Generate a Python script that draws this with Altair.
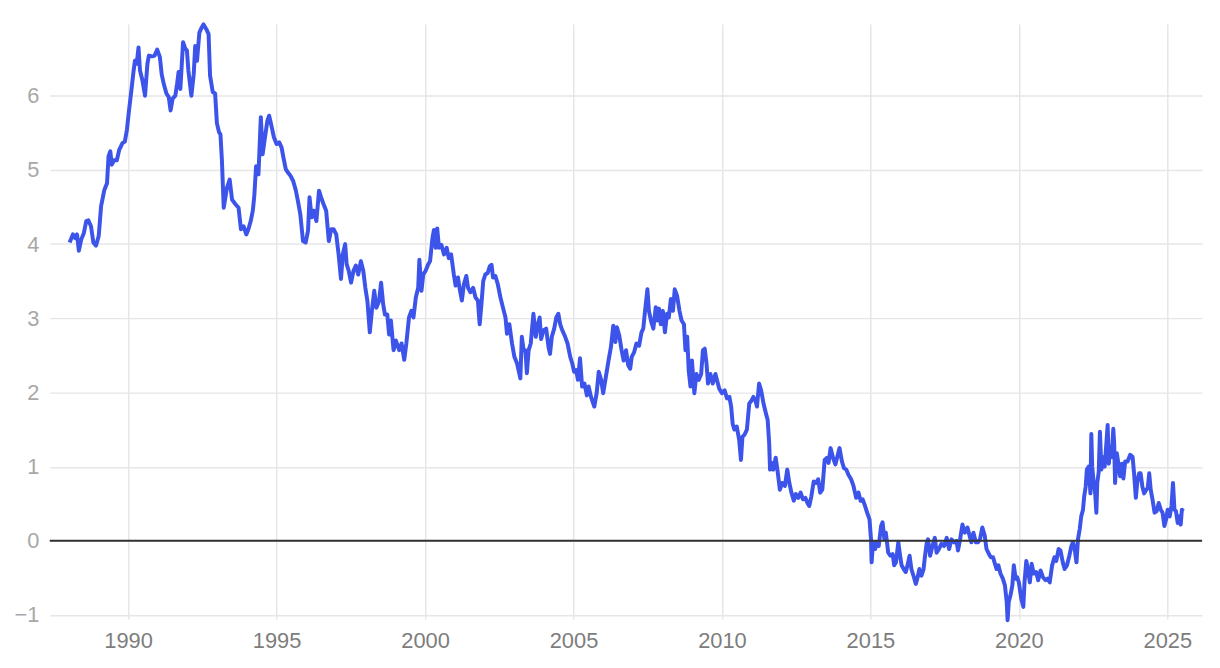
import altair as alt
import pandas as pd

years = [
1988.03,1988.14,1988.22,1988.28,1988.34,1988.42,1988.51,1988.59,1988.66,1988.75,1988.83,1988.92,
1989.01,1989.09,1989.20,1989.29,1989.34,1989.40,1989.45,1989.53,1989.62,1989.70,1989.81,1989.89,1989.96,
1990.03,1990.11,1990.18,1990.23,1990.29,1990.35,1990.40,1990.48,1990.57,1990.65,1990.70,1990.81,1990.89,1990.98,
1991.07,1991.13,1991.20,1991.29,1991.37,1991.43,1991.50,1991.59,1991.65,1991.70,1991.76,1991.85,1991.93,1991.98,
1992.03,1992.13,1992.21,1992.26,1992.32,1992.40,1992.48,1992.54,1992.63,1992.71,1992.76,1992.85,1992.93,1992.99,
1993.06,1993.11,1993.16,1993.22,1993.33,1993.42,1993.50,1993.61,1993.72,1993.80,1993.89,1993.98,
1994.05,1994.13,1994.20,1994.25,1994.31,1994.39,1994.47,1994.53,1994.61,1994.69,1994.75,1994.83,1994.91,
1995.00,1995.09,1995.17,1995.22,1995.31,1995.39,1995.47,1995.56,1995.65,1995.72,1995.80,1995.89,1995.98,
1996.06,1996.11,1996.18,1996.25,1996.34,1996.43,1996.50,1996.58,1996.67,1996.76,1996.84,1996.92,
1997.01,1997.09,1997.17,1997.23,1997.31,1997.36,1997.43,1997.51,1997.59,1997.67,1997.75,1997.84,1997.92,1997.99,
1998.06,1998.14,1998.21,1998.29,1998.36,1998.45,1998.52,1998.59,1998.65,1998.73,1998.79,1998.85,1998.94,
1999.02,1999.13,1999.21,1999.30,1999.37,1999.46,1999.54,1999.61,1999.69,1999.77,1999.81,1999.88,1999.94,
2000.02,2000.10,2000.17,2000.25,2000.30,2000.36,2000.41,2000.47,2000.55,2000.64,2000.73,2000.80,2000.88,2000.97,
2001.03,2001.11,2001.17,2001.24,2001.31,2001.39,2001.45,2001.53,2001.62,2001.70,2001.78,2001.84,2001.90,2001.96,
2002.03,2002.11,2002.18,2002.24,2002.29,2002.37,2002.45,2002.54,2002.62,2002.71,2002.76,2002.84,2002.93,
2003.01,2003.10,2003.15,2003.21,2003.26,2003.32,2003.38,2003.43,2003.49,2003.56,2003.65,2003.73,2003.79,2003.86,2003.91,2003.99,
2004.08,2004.16,2004.21,2004.27,2004.35,2004.42,2004.49,2004.55,2004.62,2004.72,2004.80,2004.89,2004.96,
2005.02,2005.09,2005.15,2005.22,2005.29,2005.37,2005.45,2005.51,2005.59,2005.70,2005.78,2005.85,2005.93,
2006.00,2006.09,2006.18,2006.26,2006.34,2006.41,2006.46,2006.54,2006.62,2006.69,2006.77,2006.84,2006.91,2006.96,
2007.04,2007.12,2007.21,2007.29,2007.35,2007.41,2007.49,2007.54,2007.62,2007.69,2007.77,2007.82,2007.88,2007.94,
2008.01,2008.08,2008.15,2008.21,2008.28,2008.35,2008.41,2008.49,2008.57,2008.64,2008.72,2008.77,2008.83,2008.88,2008.94,2008.99,
2009.07,2009.14,2009.22,2009.30,2009.36,2009.42,2009.48,2009.53,2009.61,2009.69,2009.78,2009.83,2009.91,
2010.00,2010.09,2010.17,2010.25,2010.31,2010.36,2010.42,2010.50,2010.58,2010.64,2010.69,2010.76,2010.84,2010.92,2010.98,
2011.06,2011.12,2011.18,2011.25,2011.32,2011.40,2011.48,2011.54,2011.59,2011.62,2011.68,2011.73,2011.81,2011.88,2011.95,
2012.03,2012.12,2012.20,2012.27,2012.34,2012.42,2012.49,2012.57,2012.65,2012.73,2012.81,2012.88,2012.94,
2013.01,2013.09,2013.16,2013.24,2013.31,2013.38,2013.46,2013.54,2013.59,2013.66,2013.74,2013.82,2013.89,2013.96,
2014.04,2014.11,2014.19,2014.26,2014.35,2014.43,2014.52,2014.60,2014.67,2014.74,2014.82,2014.89,2014.97,
2015.02,2015.04,2015.09,2015.16,2015.22,2015.28,2015.36,2015.41,2015.47,2015.52,2015.60,2015.67,2015.75,2015.80,2015.86,2015.94,
2016.00,2016.05,2016.12,2016.19,2016.25,2016.32,2016.38,2016.45,2016.53,2016.58,2016.65,2016.72,2016.79,2016.84,2016.90,2016.94,
2017.01,2017.09,2017.17,2017.23,2017.31,2017.39,2017.48,2017.57,2017.65,2017.73,2017.82,2017.90,2017.95,
2018.02,2018.10,2018.18,2018.27,2018.34,2018.40,2018.47,2018.55,2018.62,2018.69,2018.77,2018.85,2018.91,2018.97,
2019.05,2019.13,2019.18,2019.25,2019.31,2019.38,2019.46,2019.53,2019.59,2019.62,2019.66,2019.72,2019.78,2019.83,2019.89,2019.94,
2020.00,2020.08,2020.15,2020.19,2020.25,2020.30,2020.37,2020.43,2020.50,2020.58,2020.65,2020.73,2020.81,2020.90,2020.97,
2021.04,2021.12,2021.20,2021.26,2021.34,2021.40,2021.48,2021.54,2021.62,2021.70,2021.77,2021.82,2021.88,2021.94,2021.99,
2022.05,2022.10,2022.16,2022.20,2022.25,2022.29,2022.35,2022.41,2022.44,2022.47,2022.52,2022.57,2022.61,2022.64,2022.69,2022.73,2022.78,2022.82,2022.89,2022.93,2022.99,
2023.03,2023.08,2023.13,2023.18,2023.21,2023.24,2023.30,2023.36,2023.41,2023.47,2023.52,2023.58,2023.66,2023.75,2023.83,2023.88,2023.94,2023.99,
2024.05,2024.10,2024.16,2024.22,2024.29,2024.34,2024.39,2024.44,2024.50,2024.57,2024.64,2024.71,2024.78,2024.84,2024.90,2024.96,
2025.01,2025.08,2025.14,2025.19,2025.24,2025.29,2025.35,2025.40,2025.45,2025.49,2025.54,
]

values = [
4.02,4.13,4.08,4.13,3.91,4.06,4.15,4.31,4.32,4.24,4.02,3.98,
4.11,4.51,4.73,4.82,5.18,5.25,5.07,5.13,5.13,5.27,5.36,5.38,5.54,
5.80,6.07,6.32,6.47,6.43,6.65,6.34,6.21,6.00,6.43,6.54,6.53,6.54,6.62,
6.52,6.29,6.16,6.03,5.98,5.80,5.96,6.00,6.16,6.32,6.09,6.72,6.63,6.61,
6.34,6.00,6.29,6.67,6.47,6.85,6.92,6.96,6.90,6.83,6.27,6.05,6.03,5.63,
5.51,5.48,5.12,4.49,4.76,4.87,4.60,4.54,4.49,4.20,4.24,4.13,
4.20,4.31,4.45,4.65,5.05,4.94,5.71,5.21,5.44,5.66,5.73,5.59,5.44,
5.35,5.37,5.30,5.19,5.01,4.96,4.92,4.85,4.72,4.58,4.40,4.04,4.02,
4.18,4.63,4.36,4.45,4.31,4.72,4.63,4.54,4.45,4.04,4.20,4.20,
4.13,3.86,3.53,3.86,4.00,3.73,3.64,3.48,3.64,3.71,3.59,3.77,3.64,3.41,
3.23,2.81,3.10,3.37,3.14,3.23,3.48,3.19,3.05,3.05,2.78,2.97,2.57,
2.70,2.57,2.66,2.44,2.66,3.01,3.10,3.01,3.28,3.41,3.79,3.37,3.59,
3.64,3.72,3.77,4.08,4.19,3.95,4.21,3.95,3.99,3.86,3.95,3.81,3.86,3.59,
3.44,3.55,3.39,3.24,3.46,3.57,3.41,3.35,3.41,3.28,3.24,2.92,3.19,3.50,
3.59,3.61,3.70,3.72,3.55,3.57,3.46,3.28,3.15,3.01,2.79,2.92,2.66,
2.48,2.39,2.30,2.19,2.75,2.57,2.57,2.26,2.57,2.66,3.06,2.75,2.90,3.01,2.72,2.84,
2.86,2.61,2.52,2.75,2.86,3.01,3.06,2.92,2.84,2.75,2.66,2.48,2.39,
2.28,2.30,2.17,2.46,2.08,2.12,1.96,2.08,1.94,1.81,1.99,2.28,2.17,
1.99,2.21,2.43,2.61,2.90,2.68,2.88,2.77,2.57,2.43,2.57,2.37,2.32,2.48,
2.54,2.66,2.63,2.81,2.86,3.10,3.39,3.10,2.95,2.86,3.15,2.97,3.13,2.92,
3.10,2.81,3.06,3.01,3.26,3.10,3.39,3.30,3.10,2.97,2.92,2.57,2.75,2.30,2.08,2.43,
1.99,2.25,2.17,2.25,2.57,2.59,2.39,2.12,2.25,2.12,2.25,2.17,2.05,
1.99,2.03,1.92,1.94,1.81,1.58,1.50,1.54,1.36,1.09,1.40,1.43,1.50,1.85,1.88,
1.94,1.90,1.81,2.12,2.03,1.85,1.72,1.63,1.32,0.96,1.05,0.96,1.12,0.92,0.69,
0.78,0.74,0.96,0.78,0.65,0.54,0.63,0.58,0.65,0.56,0.58,0.51,0.47,
0.60,0.80,0.78,0.83,0.65,0.69,1.09,1.12,1.05,1.25,1.12,1.03,1.14,1.25,
1.07,0.98,0.96,0.89,0.83,0.74,0.58,0.65,0.54,0.56,0.47,0.38,0.29,
0.02,-0.29,-0.02,-0.11,-0.02,-0.07,0.20,0.25,0.02,0.11,-0.16,-0.20,-0.18,-0.33,-0.29,-0.02,
-0.20,-0.33,-0.38,-0.42,-0.33,-0.20,-0.38,-0.47,-0.58,-0.51,-0.38,-0.47,-0.38,-0.20,-0.02,0.02,
-0.20,-0.07,0.04,-0.16,-0.11,-0.04,-0.07,0.04,-0.11,0.02,-0.02,0.00,-0.13,
0.02,0.22,0.11,0.18,0.07,-0.02,0.11,-0.02,-0.02,0.02,0.18,0.07,-0.11,-0.16,
-0.22,-0.22,-0.29,-0.38,-0.33,-0.44,-0.51,-0.60,-0.82,-1.07,-0.82,-0.73,-0.60,-0.33,-0.51,-0.49,
-0.56,-0.78,-0.89,-0.56,-0.27,-0.38,-0.56,-0.31,-0.44,-0.42,-0.53,-0.40,-0.49,-0.53,-0.51,
-0.56,-0.33,-0.22,-0.27,-0.11,-0.13,-0.29,-0.38,-0.33,-0.20,-0.07,-0.02,-0.11,-0.29,0.02,
0.16,0.33,0.42,0.60,0.73,0.96,1.00,0.64,1.44,1.00,0.78,0.64,0.38,0.78,0.93,1.47,0.96,1.13,1.00,1.22,1.56,
1.04,1.27,1.13,1.51,1.31,0.78,1.18,1.02,0.87,1.04,0.84,1.07,1.07,1.16,1.13,0.91,0.58,0.80,
0.91,0.91,0.73,0.64,0.69,0.71,0.91,0.69,0.56,0.38,0.40,0.51,0.42,0.38,0.20,0.29,
0.42,0.33,0.47,0.78,0.42,0.40,0.24,0.33,0.22,0.42,0.40,
]

x_ticks = [1990, 1995, 2000, 2005, 2010, 2015, 2020, 2025]
y_ticks = [-1, 0, 1, 2, 3, 4, 5, 6]

df = pd.DataFrame({"year": years, "value": values})

FONT = "Liberation Sans"
Y_DOMAIN = [-1.055, 6.965]

x_enc = alt.X(
    "year:Q",
    scale=alt.Scale(domain=[1987.36, 2026.17], nice=False, zero=False),
    axis=alt.Axis(
        values=x_ticks, format="d", title=None, domain=False, ticks=False,
        labelColor="#7d7d7d", labelFontSize=22, labelFont=FONT, labelPadding=12,
        gridColor="#e6e6e6", gridWidth=1.5,
    ),
)
y_enc = alt.Y(
    "value:Q",
    scale=alt.Scale(domain=Y_DOMAIN, nice=False, zero=False),
    axis=alt.Axis(
        values=y_ticks, format="d", title=None, domain=False, ticks=False,
        labelColor="#a8a8a8", labelFontSize=22, labelFont=FONT, labelPadding=11,
        gridColor="#e6e6e6", gridWidth=1.5,
    ),
)

zero = alt.Chart(pd.DataFrame({"z": [0]})).mark_rule(color="#333333", strokeWidth=2).encode(
    y=alt.Y("z:Q", scale=alt.Scale(domain=Y_DOMAIN, nice=False, zero=False))
)

line = alt.Chart(df).mark_line(color="#3c54ea", strokeWidth=4, strokeJoin="round").encode(
    x=x_enc, y=y_enc
)

chart = (
    alt.layer(line, zero)
    .properties(
        width=1160, height=599,
        padding={"left": 42, "top": 14, "right": 10, "bottom": 45},
        autosize=alt.AutoSizeParams(type="none"),
    )
    .configure_view(stroke=None)
)

chart.save("out.html", embed_options={"renderer": "svg", "actions": False})
